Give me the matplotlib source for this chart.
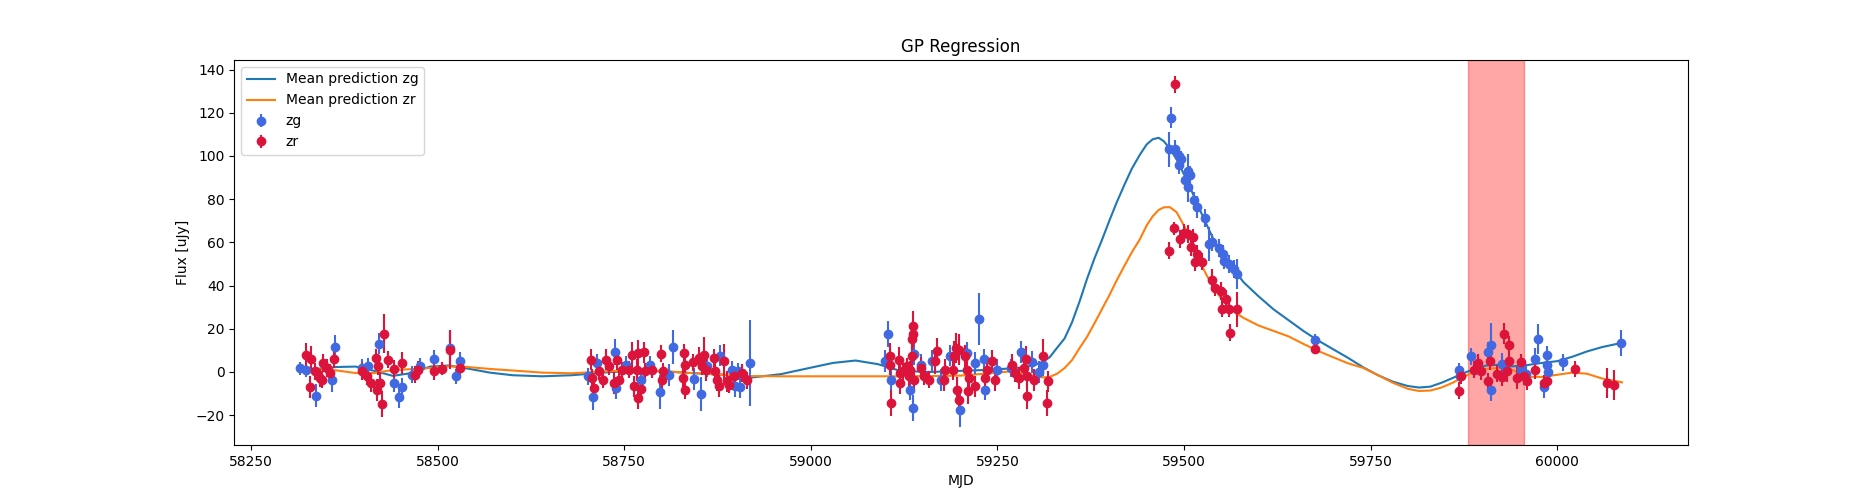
import matplotlib
matplotlib.use("Agg")
import matplotlib.pyplot as plt

# GP mean predictions
gp_mjd = [58316, 58340, 58365, 58390, 58415, 58440, 58465, 58490, 58515, 58540,
          58570, 58600, 58640, 58680, 58720, 58760, 58800, 58840, 58880, 58920,
          58960, 59000, 59030, 59060, 59090, 59120, 59160, 59200, 59240, 59265,
          59280, 59290, 59300, 59310, 59320, 59330, 59340, 59350, 59360, 59370,
          59380, 59390, 59400, 59410, 59420, 59430, 59441, 59450, 59458, 59466,
          59473, 59481, 59490, 59500, 59510, 59520, 59530, 59540, 59550, 59560,
          59570, 59580, 59600, 59620, 59640, 59660, 59680, 59700, 59720, 59740,
          59760, 59780, 59800, 59815, 59830, 59845, 59860, 59875, 59890, 59905,
          59920, 59940, 59960, 59980, 60000, 60020, 60040, 60060, 60087]
gp_zg = [1.0, 1.5, 2.3, 2.5, 0.5, -1.8, -0.5, 2.5, 3.0, 1.6,
         -0.3, -1.5, -2.0, -1.5, -0.3, 0.5, 0.3, -0.5, -1.2, -2.6,
         -1.0, 2.0, 4.2, 5.3, 3.6, 0.5, 0.0, 0.5, 1.0, 1.6,
         2.0, 2.4, 3.3, 4.5, 6.8, 11.2, 15.5, 23.0, 32.5, 43.0,
         52.5, 61.0, 70.0, 78.6, 86.5, 94.0, 100.6, 105.3, 107.7, 108.4,
         106.8, 103.4, 98.5, 91.5, 84.0, 76.0, 68.5, 61.0, 55.5, 50.5,
         46.0, 41.5, 35.0, 29.0, 24.0, 19.0, 14.5, 10.5, 6.5, 2.2,
         -1.5, -4.5, -6.5, -7.2, -6.8, -5.0, -2.8, -0.5, 1.5, 3.0,
         3.3, 2.6, 3.2, 4.2, 5.0, 7.0, 9.5, 11.5, 13.5]
gp_zr = [2.0, 1.2, 0.7, -0.5, -0.5, 0.9, 1.3, 1.8, 2.6, 2.3,
         1.4, 0.7, -0.3, -0.6, 0.2, 0.8, 0.5, -0.5, -1.2, -1.9,
         -2.0, -2.0, -2.0, -2.0, -2.0, -2.0, -1.9, -1.7, -0.6, 0.2,
         -0.4, -1.0, -1.8, -2.5, -2.3, -0.8, 1.8, 5.5, 11.0, 16.2,
         22.5, 29.0, 35.5, 42.5, 49.0, 55.3, 61.5, 67.8, 72.0, 75.0,
         76.2, 76.3, 74.0, 67.8, 60.8, 52.0, 45.0, 39.0, 34.0, 30.5,
         27.2, 25.0, 21.5, 19.0, 16.5, 13.0, 9.7, 6.8, 4.0, 1.9,
         -1.5, -5.0, -7.8, -8.8, -8.6, -7.2, -5.0, -2.2, 0.3, 1.5,
         1.8, 1.0, -2.2, -2.3, -1.3, -0.3, -0.8, -3.0, -4.8]

# zg photometry
zg_mjd = [58316, 58323, 58337, 58358, 58363, 58399, 58406, 58421, 58441, 58448,
          58452, 58466, 58476, 58495, 58516, 58524, 58530,
          58702, 58708, 58714, 58738, 58739, 58752, 58772, 58784, 58798, 58810,
          58816, 58843, 58853, 58861, 58878, 58894, 58899, 58905, 58903, 58918,
          59100, 59104, 59107, 59133, 59137, 59138, 59147, 59162, 59174, 59186,
          59200, 59209, 59220, 59226, 59232, 59234, 59250, 59268, 59281, 59296,
          59306, 59311,
          59480, 59483, 59488, 59493, 59494, 59496, 59502, 59505, 59506, 59508,
          59513, 59517, 59528, 59533, 59538, 59547, 59552, 59553, 59561, 59567,
          59571, 59676,
          59869, 59870, 59884, 59908, 59911, 59912, 59926, 59931, 59951, 59958,
          59971, 59974, 59983, 59986, 59987, 59988, 60008, 60086]
zg_flux = [1.8, 0.7, -10.9, -3.6, 11.6, 1.8, 2.6, 13.1, -5.2, -11.7,
           -7.0, -1.3, 2.9, 6.0, 11.1, -2.0, 5.2,
           -2.0, -11.7, 4.1, 9.1, -7.5, 3.4, -3.6, 3.4, -9.3, -1.3,
           11.6, -3.3, -10.1, 2.6, 7.6, 1.0, -6.4, -7.0, 0.3, 4.1,
           5.0, 17.4, -3.6, -8.2, -16.7, 8.1, 3.4, 5.0, -3.6, 7.6,
           -17.5, 8.8, 4.2, 24.7, 5.8, -8.2, 1.1, 1.9, 9.2, 4.5,
           0.0, 3.3,
           103.1, 117.7, 103.4, 100.0, 95.6, 98.4, 89.0, 92.9, 85.6, 91.3,
           79.4, 76.3, 71.3, 59.2, 60.0, 57.4, 54.6, 51.5, 50.0, 47.6,
           45.3, 14.7,
           0.7, -2.0, 7.2, 9.1, 12.7, -8.3, 3.8, 1.1, 0.7, -0.8,
           6.0, 15.3, -7.0, 8.0, 3.4, -0.2, 4.5, 13.5]
zg_err = [3, 3, 5.5, 5.5, 5.5, 4, 4, 5, 4, 5,
          4, 4, 3.5, 4, 8, 3.5, 4,
          4, 6, 4, 6, 5, 4, 5, 4, 8, 5,
          8, 5, 8, 5, 5, 4, 5, 5, 4, 20,
          5, 6, 5, 5, 6, 5, 5, 5, 5, 5,
          8, 5, 5, 12, 5, 5, 5, 4, 5, 5,
          5, 5,
          8, 5, 4, 4, 4, 4, 4, 8, 7, 4,
          4, 5, 4, 8, 4, 4, 4, 4, 4, 4,
          7, 3,
          3.5, 3.5, 4, 5, 10, 5, 5, 4, 4, 4,
          5, 7, 5, 4, 4, 4, 4, 6]

# zr photometry
zr_mjd = [58324, 58329, 58330, 58336, 58342, 58345, 58347, 58352, 58356, 58361,
          58399, 58405, 58410, 58417, 58419, 58420, 58423, 58426, 58428, 58434,
          58441, 58452, 58470, 58473, 58495, 58506, 58516, 58530,
          58705, 58707, 58710, 58716, 58722, 58725, 58729, 58736, 58740, 58743,
          58747, 58756, 58760, 58763, 58767, 58768, 58769, 58772, 58776, 58778,
          58787, 58799, 58801, 58802, 58829, 58830, 58831, 58832, 58842, 58850,
          58854, 58857, 58859, 58870, 58872, 58874, 58877, 58884, 58888, 58891,
          58897, 58908, 58915,
          59106, 59106.5, 59107, 59118, 59119, 59120, 59124, 59129, 59131, 59133,
          59135, 59136, 59137, 59137.5, 59138, 59147, 59151, 59158, 59167, 59169,
          59178, 59180, 59191, 59192, 59194, 59196, 59198, 59199, 59207, 59209,
          59210, 59212, 59220, 59234, 59236, 59243, 59247, 59270, 59274, 59279,
          59285, 59288, 59289, 59290, 59299, 59311, 59317, 59318,
          59480, 59486, 59488, 59495, 59500, 59506, 59509, 59512, 59515, 59518,
          59524, 59538, 59542, 59549, 59551, 59556, 59560, 59562, 59571, 59676,
          59869, 59871, 59888, 59894, 59898, 59908, 59910, 59920, 59926, 59929,
          59933, 59935, 59936, 59946, 59951, 59955, 59960, 59971, 59983, 59986,
          60024, 60067, 60076]
zr_flux = [8.0, -7.0, 6.0, 0.3, -2.8, -3.6, 4.1, 1.8, -0.5, 6.0,
           0.3, -2.0, -5.2, 6.5, -8.3, 2.6, -5.2, -14.8, 17.8, 5.7,
           1.4, 4.2, -1.3, 1.0, 0.3, 1.5, 10.4, 1.8,
           5.7, -2.8, -7.5, 0.3, -3.6, 5.7, 2.6, -5.2, 5.7, -3.6,
           0.7, 1.0, 8.0, -6.7, 1.0, -12.1, 8.8, -7.9, 9.1, 0.3,
           1.0, 8.5, -3.6, 0.3, -2.8, 8.8, 3.4, -8.3, 4.5, 6.5,
           2.6, 8.0, 0.7, 6.5, 0.3, -3.6, -6.4, 4.9, -4.4, -5.9,
           -1.7, -0.5, -3.9,
           7.3, 3.4, -14.4, 5.4, -5.1, -0.5, 0.3, 2.7, -2.0, 1.1,
           15.1, 7.3, 21.3, 17.4, -3.6, 1.9, -2.0, -3.6, 5.0, 9.6,
           -3.6, 1.1, 1.1, 7.3, 11.2, -8.2, 10.4, -12.9, 7.3, 1.1,
           -9.0, -2.8, -6.7, -2.8, 1.1, 5.0, -3.6, 3.4, -0.5, -2.8,
           1.9, 6.1, -11.0, -2.0, -3.6, 7.2, -14.4, -4.4,
           56.1, 66.5, 133.2, 61.5, 64.3, 63.9, 57.7, 62.3, 50.7, 54.6,
           51.0, 42.6, 39.1, 37.5, 29.3, 34.0, 29.3, 18.2, 29.0, 10.7,
           -8.6, -1.7, 1.1, 4.2, 0.3, -4.4, 4.9, -0.8, -2.4, 17.8,
           0.3, 4.9, 12.7, -2.8, 4.5, -2.0, -4.4, 0.7, -5.2, -4.4,
           1.4, -5.2, -5.9]
zr_err = [5.5, 5, 6, 4, 4, 4, 4, 4, 4, 4,
          4, 4, 4, 4, 5, 4, 5, 6, 9, 4,
          4, 5, 4, 4, 4, 3, 9, 3,
          5, 4, 4, 4, 4, 5, 4, 5, 5, 4,
          4, 4, 6, 5, 5, 5, 6, 6, 5, 4,
          4, 4, 5, 4, 4, 4, 4, 4, 4, 5,
          4, 8, 5, 4, 4, 5, 5, 8, 5, 4,
          4, 4, 4,
          6, 5, 6, 6, 5, 4, 4, 4, 5, 4,
          5, 6, 7, 6, 5, 5, 4, 4, 6, 6,
          5, 5, 5, 7, 7, 6, 7, 6, 5, 5,
          6, 5, 5, 5, 4, 5, 5, 5, 4, 5,
          5, 6, 6, 5, 5, 8, 6, 5,
          4, 3, 4, 4, 4, 4, 4, 4, 4, 4,
          4, 5, 4, 4, 4, 4, 4, 4, 8, 2.5,
          4, 4, 4, 4, 4, 4, 4, 4, 4, 5,
          5, 5, 4, 5, 4, 4, 4, 4, 4, 4,
          3.5, 7, 7]

# highlighted window
span_start, span_end = 59881, 59956

fig, ax = plt.subplots(figsize=(18.75, 5), dpi=100)

ax.plot(gp_mjd, gp_zg, color='tab:blue', label='Mean prediction zg')
ax.plot(gp_mjd, gp_zr, color='tab:orange', label='Mean prediction zr')

ax.errorbar(zg_mjd, zg_flux, yerr=zg_err, fmt='o', color='royalblue', label='zg')
ax.errorbar(zr_mjd, zr_flux, yerr=zr_err, fmt='o', color='crimson', label='zr')

ax.axvspan(span_start, span_end, color='red', alpha=0.35)

ax.set_xlim(58227.6, 60174.7)
ax.set_ylim(-33.8, 144.4)
ax.set_title('GP Regression')
ax.set_xlabel('MJD')
ax.set_ylabel('Flux [uJy]')
ax.legend(loc='upper left')

fig.savefig('out.png', dpi=100)
